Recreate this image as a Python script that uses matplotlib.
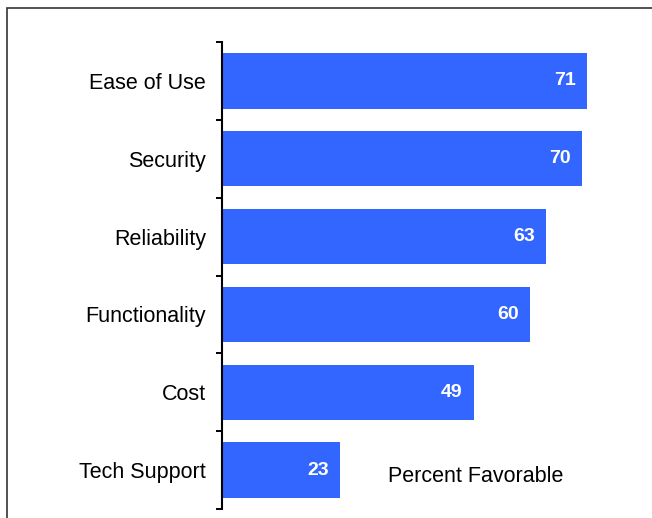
import matplotlib
matplotlib.use("Agg")
import matplotlib.pyplot as plt
from matplotlib.patches import Rectangle

# Survey results: share of respondents rating each attribute favorably
categories = ["Ease of Use", "Security", "Reliability", "Functionality", "Cost", "Tech Support"]
favorable = [71, 70, 63, 60, 49, 23]

bar_color = "#3366FF"
plt.rcParams["font.family"] = ["Liberation Sans", "DejaVu Sans"]

fig = plt.figure(figsize=(6.52, 5.18), dpi=100)
ax = fig.add_axes([222 / 652, 1 - 509 / 518, 1 - 222 / 652, (509 - 42) / 518])

rows = list(range(len(categories)))
bars = ax.barh(rows, favorable, height=0.71, color=bar_color, zorder=2)

# value labels inside the right end of each bar
for bar, val in zip(bars, favorable):
    ax.annotate(str(val), xy=(bar.get_width(), bar.get_y() + bar.get_height() / 2),
                xytext=(-8, 0), textcoords="offset points", ha="right", va="center",
                color="white", fontsize=14, fontweight="bold")

ax.set_xlim(0, 430 / 5.14)
ax.set_ylim(len(categories) - 0.5, -0.5)

ax.set_yticks(rows)
ax.set_yticklabels(categories, fontsize=15.5)
ax.set_yticks([r - 0.5 for r in rows] + [len(categories) - 0.5], minor=True)
ax.tick_params(axis="y", which="major", length=0, pad=11.5)
ax.tick_params(axis="y", which="minor", length=4.3, width=1.4, direction="out")
ax.set_xticks([])

for side in ["top", "right", "bottom"]:
    ax.spines[side].set_visible(False)
ax.spines["left"].set_linewidth(1.5)

fig.text(388 / 652, 1 - 476 / 518, "Percent Favorable", fontsize=15.5, ha="left", va="center")

# outer frame, open at the right and bottom edges
fig.patches.append(Rectangle((7 / 652, -0.1), 1.2, 1.1 - 8 / 518, transform=fig.transFigure,
                             fill=False, edgecolor="#333333", linewidth=1.2))

fig.savefig("out.png", dpi=100)
